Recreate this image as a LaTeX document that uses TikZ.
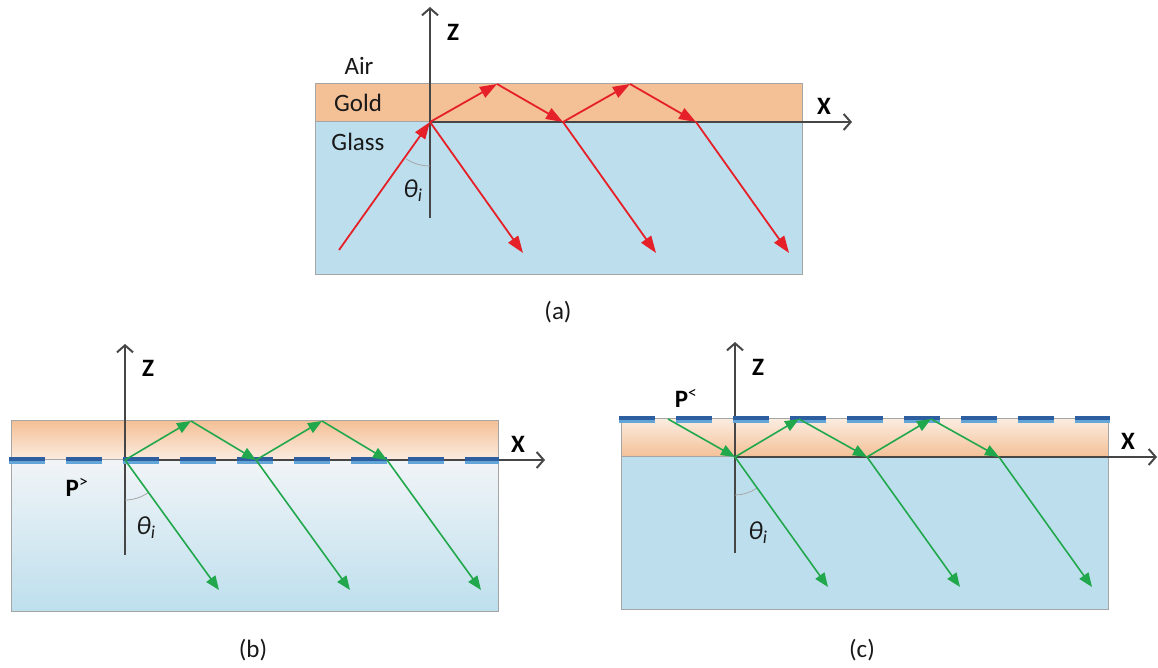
\documentclass[tikz,border=0pt]{standalone}
\usepackage{fontspec}
\setmainfont{Carlito}
\usetikzlibrary{arrows.meta}
\definecolor{goldc}{RGB}{244,192,150}
\definecolor{goldl}{RGB}{251,236,224}
\definecolor{glassc}{RGB}{189,223,237}
\definecolor{glassl}{RGB}{241,244,247}
\definecolor{rayred}{RGB}{230,32,40}
\definecolor{raygreen}{RGB}{34,168,76}
\definecolor{dashdark}{RGB}{45,95,160}
\definecolor{dashlight}{RGB}{100,165,215}
\definecolor{axisgray}{RGB}{70,70,70}
\definecolor{edgegray}{RGB}{165,165,165}

\begin{document}
\begin{tikzpicture}[x=1pt,y=1pt,
  axis/.style={draw=axisgray,line width=2pt,-{Straight Barb[length=7pt,width=16pt]}},
  edge/.style={draw=edgegray,line width=1pt},
  redray/.style={draw=rayred,line width=1.8pt,-{Triangle[length=17pt,width=12pt]}},
  greenray/.style={draw=raygreen,line width=1.6pt,-{Triangle[length=14pt,width=11pt]}},
  lbl/.style={font=\fontsize{25}{29}\selectfont,text=black!90},
  axlbl/.style={font=\bfseries\fontsize{25}{29}\selectfont},
  plbl/.style={font=\bfseries\fontsize{25}{29}\selectfont},
  thlbl/.style={font=\itshape\fontsize{26}{30}\selectfont,text=black!90},
  ang/.style={draw=gray!70,line width=0.8pt},
  pdash/.style={line width=4pt,dash pattern=on 36pt off 21pt}]
  \useasboundingbox (0,0) rectangle (1158,668);

  % (a): red rays, plain gold on glass
  \begin{scope}[shift={(430,546)}]
    \fill[goldc] (-115,0) rectangle (372,38);
    \fill[glassc] (-115,-153) rectangle (372,0);
    \draw[edge] (-115,-153) rectangle (372,38);
    \draw[edge] (-115,0) -- (0,0);
    \coordinate (zbot) at (0,-96);
    \coordinate (ztop) at (0,115);
    \coordinate (xend) at (422,0);
    \coordinate (src) at (-91,-128);
    \foreach \k in {0,1,2} {
      \coordinate (b\k) at ({\k*133},0);
      \coordinate (e\k) at ({\k*133+93},-131);
    }
    \foreach \k in {0,1}
      \coordinate (t\k) at ({\k*133+67},38);
    \draw[axis] (zbot) -- (ztop);
    \draw[axis] (b0) -- (xend);
    \draw[ang] (0,-44) arc[start angle=270,end angle=237,radius=44];
    \draw[redray] (src) -- (b0);
    \draw[redray] (b0) -- (t0);
    \draw[redray] (t0) -- (b1);
    \draw[redray] (b1) -- (t1);
    \draw[redray] (t1) -- (b2);
    \foreach \k in {0,1,2}
      \draw[redray] (b\k) -- (e\k);
    \node[axlbl] (za) at (23,90) {Z};
    \node[axlbl] (xa) at (394,16) {X};
    \node[lbl] (air) at (-71,56) {Air};
    \node[lbl] (gold) at (-72,19) {Gold};
    \node[lbl] (glass) at (-72,-20) {Glass};
    \node[thlbl] (tha) at (-17,-69) {θ\textsubscript{i}};
  \end{scope}

  % (b): green rays, P> along the gold/glass interface
  \begin{scope}[shift={(125,208)}]
    \fill[top color=goldc,bottom color=goldl] (-114,0) rectangle (373,39);
    \fill[top color=glassl,bottom color=glassc] (-114,-152) rectangle (373,0);
    \draw[edge] (-114,-152) rectangle (373,39);
    \draw[edge] (-114,0) -- (0,0);
    \coordinate (zbot) at (0,-95);
    \coordinate (ztop) at (0,116);
    \coordinate (xend) at (420,0);
    \foreach \k in {0,1,2} {
      \coordinate (b\k) at ({\k*131},0);
      \coordinate (e\k) at ({\k*131+94},-130);
    }
    \foreach \k in {0,1}
      \coordinate (t\k) at ({\k*131+66},39);
    \draw[axis] (zbot) -- (ztop);
    \draw[axis] (b0) -- (xend);
    \draw[pdash,dashlight,line width=6pt] (-116,-1) -- (374,-1);
    \draw[pdash,dashdark] (-116,0.5) -- (374,0.5);
    \draw[ang] (0,-40) arc[start angle=270,end angle=305,radius=40];
    \draw[greenray] (b0) -- (t0);
    \draw[greenray] (t0) -- (b1);
    \draw[greenray] (b1) -- (t1);
    \draw[greenray] (t1) -- (b2);
    \foreach \k in {0,1,2}
      \draw[greenray] (b\k) -- (e\k);
    \node[axlbl] (zb) at (23,92) {Z};
    \node[axlbl] (xb) at (393,16) {X};
    \node[plbl] (pgt) at (-48,-27) {P\textsuperscript{\mdseries >}};
    \node[thlbl] (thb) at (21,-68) {θ\textsubscript{i}};
  \end{scope}

  % (c): green rays, P< along the air/gold surface
  \begin{scope}[shift={(735,211)}]
    \fill[top color=goldl,bottom color=goldc] (-114,0) rectangle (373,38);
    \fill[glassc] (-114,-153) rectangle (373,0);
    \draw[edge] (-114,-153) rectangle (373,38);
    \draw[edge] (-114,0) -- (0,0);
    \coordinate (zbot) at (0,-96);
    \coordinate (ztop) at (0,115);
    \coordinate (xend) at (422,0);
    \coordinate (src) at (-67,38);
    \foreach \k in {0,1,2} {
      \coordinate (b\k) at ({\k*132},0);
      \coordinate (e\k) at ({\k*132+93},-130);
    }
    \foreach \k in {0,1}
      \coordinate (t\k) at ({\k*132+64},38);
    \draw[axis] (zbot) -- (ztop);
    \draw[axis] (b0) -- (xend);
    \draw[pdash,dashlight,line width=6pt] (-116,37) -- (375,37);
    \draw[pdash,dashdark] (-116,38.5) -- (375,38.5);
    \draw[ang] (0,-38) arc[start angle=270,end angle=305,radius=38];
    \draw[greenray] (src) -- (b0);
    \draw[greenray] (b0) -- (t0);
    \draw[greenray] (t0) -- (b1);
    \draw[greenray] (b1) -- (t1);
    \draw[greenray] (t1) -- (b2);
    \foreach \k in {0,1,2}
      \draw[greenray] (b\k) -- (e\k);
    \node[axlbl] (zc) at (23,90) {Z};
    \node[axlbl] (xc) at (393,16) {X};
    \node[plbl] (plt) at (-49,59) {P\textsuperscript{\mdseries <}};
    \node[thlbl] (thc) at (23,-76) {θ\textsubscript{i}};
  \end{scope}

  \node[lbl] (capa) at (558,356) {(a)};
  \node[lbl] (capb) at (253,18) {(b)};
  \node[lbl] (capc) at (862,18) {(c)};
\end{tikzpicture}
\end{document}
